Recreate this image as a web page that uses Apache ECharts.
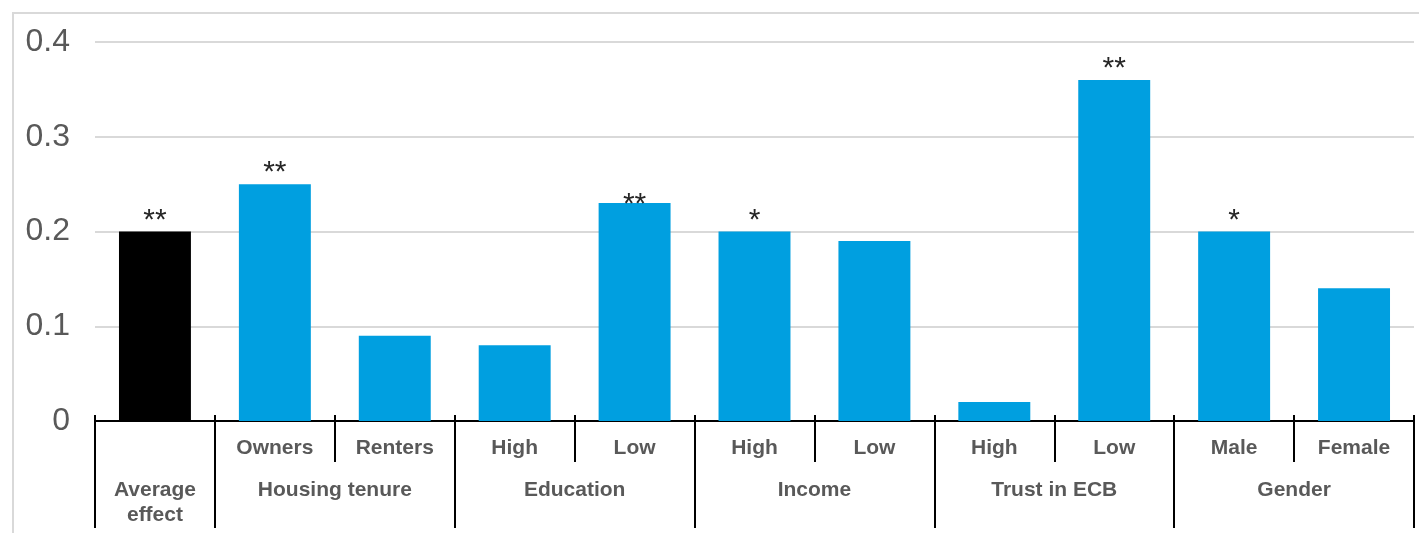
<!DOCTYPE html>
<html><head><meta charset="utf-8">
<script src="https://cdn.jsdelivr.net/npm/echarts@6/dist/echarts.min.js"></script>
<style>html,body{margin:0;padding:0;background:#fff}#c{width:1419px;height:533px}</style>
</head><body><div id="c"></div>
<script>
// ---- data ----
const groupLabels = ['Average\neffect', 'Housing tenure', 'Education', 'Income', 'Trust in ECB', 'Gender'];
const groupSpans  = [1, 2, 2, 2, 2, 2];
const subLabels   = ['', 'Owners', 'Renters', 'High', 'Low', 'High', 'Low', 'High', 'Low', 'Male', 'Female'];
const values      = [0.20, 0.25, 0.09, 0.08, 0.23, 0.20, 0.19, 0.02, 0.36, 0.20, 0.14];
const stars       = ['**', '**', '', '', '**', '*', '', '', '**', '*', ''];
const yTicks      = [0, 0.1, 0.2, 0.3, 0.4];

// ---- derived structure ----
const groupOf = [];
groupSpans.forEach((s, g) => { for (let k = 0; k < s; k++) groupOf.push(g); });
const categories = subLabels.map((s, i) => groupLabels[groupOf[i]].replace('\n', ' ') + (s ? ' – ' + s : ''));
const groupBounds = [0];
groupSpans.forEach(s => groupBounds.push(groupBounds[groupBounds.length - 1] + s));
const groupCenters = groupSpans.map((s, g) => groupBounds[g] + s / 2);
const allBounds = [];
for (let i = 0; i <= categories.length; i++) allBounds.push(i);
const subBounds = allBounds.filter(b => groupBounds.indexOf(b) < 0);

const TEXT = '#595959';
const BLUE = '#009FE0';
const FONT = 'Arial, "Liberation Sans", sans-serif';
const N = categories.length;

const chart = echarts.init(document.getElementById('c'), null, {renderer: 'canvas'});
chart.setOption({
  animation: false,
  backgroundColor: '#fff',
  graphic: [{
    type: 'rect', silent: true, z: -10,
    shape: {x: 13, y: 13, width: 1430, height: 540},
    style: {fill: 'none', stroke: '#d9d9d9', lineWidth: 2}
  }],
  grid: {left: 95, right: 5, top: 42, bottom: 112, containLabel: false},
  xAxis: [
    { // bars + sub labels
      type: 'category', data: categories, position: 'bottom',
      axisLine: {show: true, onZero: false, lineStyle: {color: '#000', width: 2}},
      axisTick: {show: false},
      axisLabel: {
        interval: 0, margin: 17, fontFamily: FONT, fontSize: 21, fontWeight: 'bold', color: TEXT,
        formatter: (v, i) => subLabels[i]
      }
    },
    { // sub-boundary ticks
      type: 'value', min: 0, max: N, position: 'bottom', offset: -6,
      axisLine: {show: false, onZero: false}, splitLine: {show: false},
      axisTick: {show: true, length: 47, customValues: subBounds, lineStyle: {color: '#000', width: 2}},
      axisLabel: {show: false}
    },
    { // group ticks + group labels
      type: 'value', min: 0, max: N, position: 'bottom', offset: -6,
      axisLine: {show: false, onZero: false}, splitLine: {show: false},
      axisTick: {show: true, length: 113, customValues: groupBounds, lineStyle: {color: '#000', width: 2}},
      axisLabel: {
        show: true, customValues: groupCenters, margin: 63, fontFamily: FONT, fontSize: 21,
        fontWeight: 'bold', color: TEXT, lineHeight: 25, verticalAlign: 'top',
        formatter: v => { const g = groupCenters.indexOf(v); return g >= 0 ? groupLabels[g] : ''; }
      }
    }
  ],
  yAxis: {
    type: 'value', min: yTicks[0], max: yTicks[yTicks.length - 1], interval: 0.1,
    axisLine: {show: false}, axisTick: {show: false},
    axisLabel: {margin: 25, fontFamily: FONT, fontSize: 32, color: TEXT,
      formatter: v => String(Math.round(v * 10) / 10)},
    splitLine: {lineStyle: {color: '#d9d9d9', width: 2}}
  },
  series: [{
    type: 'bar', xAxisIndex: 0, barWidth: '60%',
    data: values.map((v, i) => ({
      value: v,
      itemStyle: {color: i === 0 ? '#000' : BLUE},
      label: categories[i] === 'Education – Low' ? {offset: [0, 13]} : undefined
    })),
    label: {
      show: true, position: 'top', distance: -4, fontFamily: FONT, fontSize: 30, color: '#262626',
      formatter: p => stars[p.dataIndex]
    }
  }]
});
</script>
</body></html>
